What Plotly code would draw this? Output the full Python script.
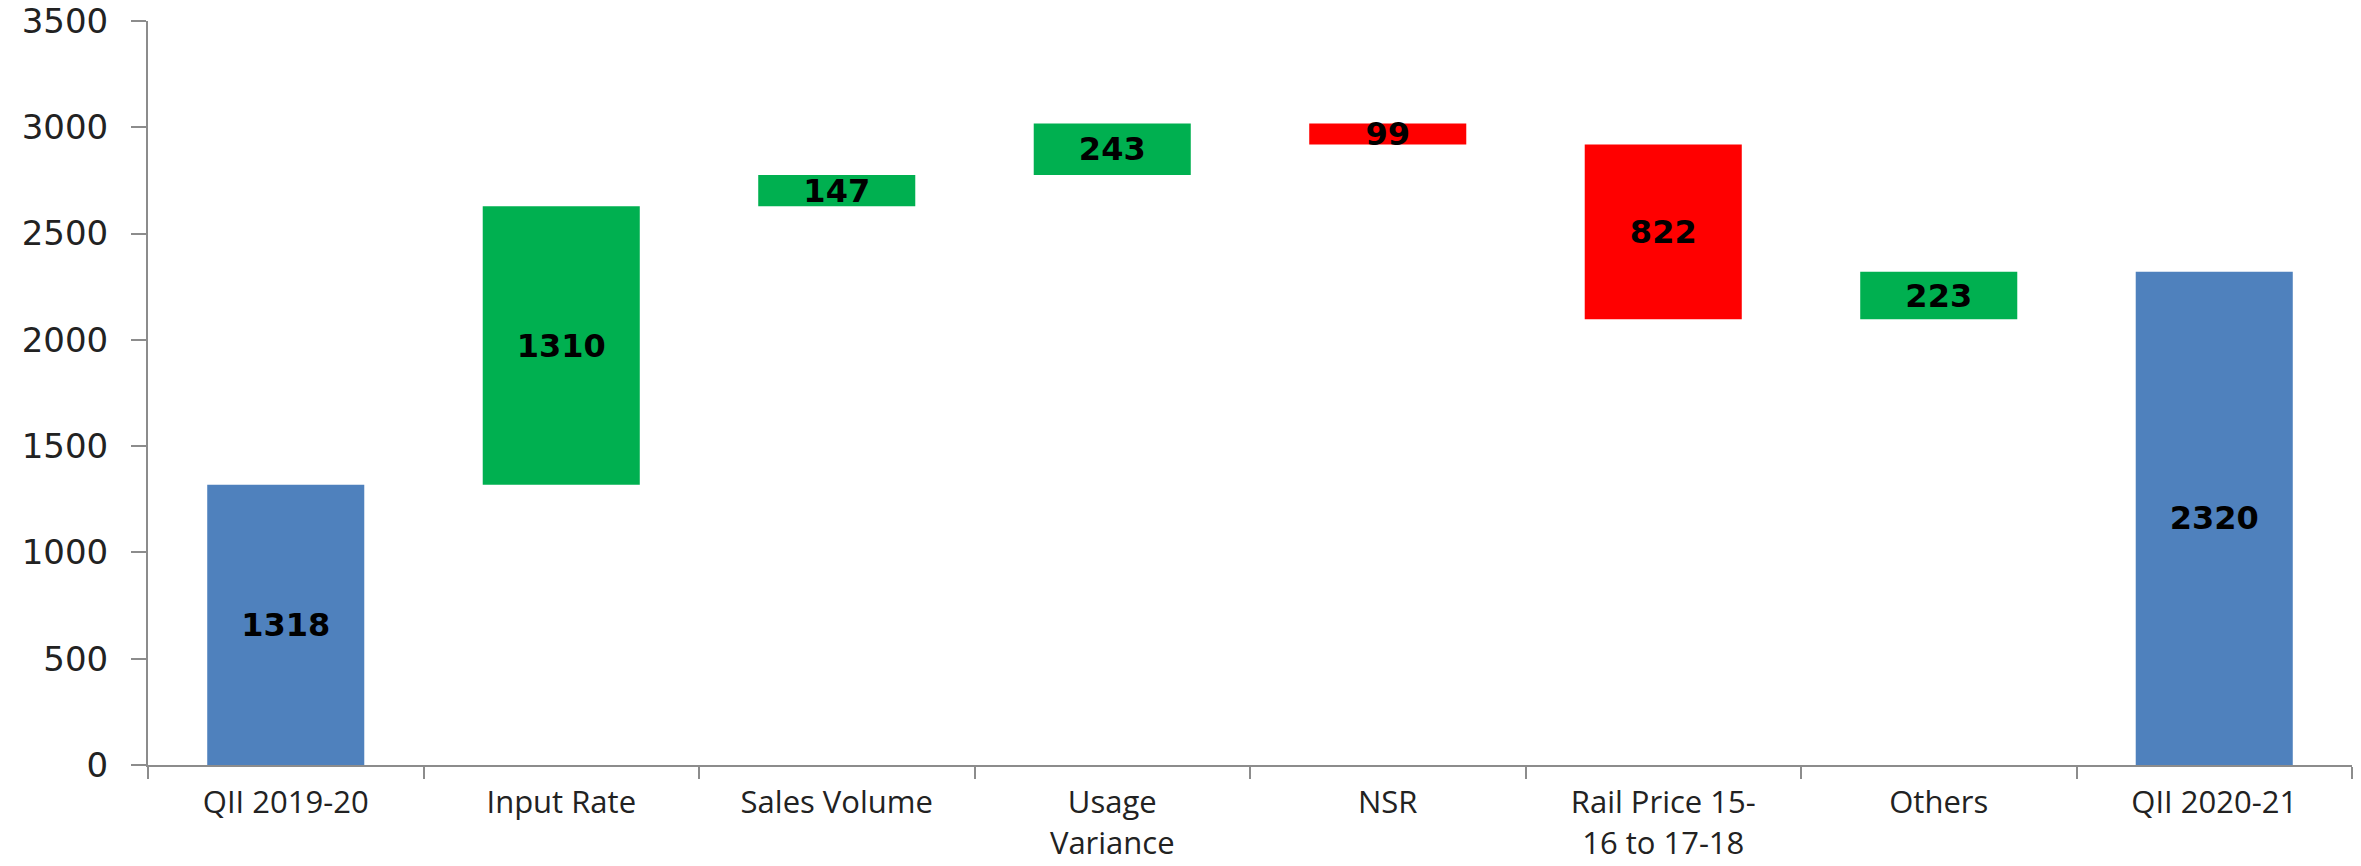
import plotly.graph_objects as go

categories = ["QII 2019-20", "Input Rate", "Sales Volume", "Usage<br>Variance", "NSR",
              "Rail Price 15-<br>16 to 17-18", "Others", "QII 2020-21"]
values = [1318, 1310, 147, 243, -99, -822, 223, 2320]
measures = ["absolute", "relative", "relative", "relative", "relative", "relative", "relative", "total"]
labels = ["1318", "1310", "147", "243", "99", "822", "223", "2320"]
y_ticks = [0, 500, 1000, 1500, 2000, 2500, 3000, 3500]

fig = go.Figure(go.Waterfall(
    x=categories,
    y=values,
    measure=measures,
    text=labels,
    textposition="inside",
    insidetextanchor="middle",
    constraintext="none",
    textangle=0,
    textfont=dict(family="DejaVu Sans", size=32, color="black", weight="bold"),
    increasing=dict(marker=dict(color="#00B050")),
    decreasing=dict(marker=dict(color="#FF0000")),
    totals=dict(marker=dict(color="#4F81BD")),
    connector=dict(visible=False),
    showlegend=False,
))

fig.update_layout(
    width=2353, height=858,
    margin=dict(l=140, r=9, t=13, b=101, autoexpand=False),
    plot_bgcolor="white", paper_bgcolor="white",
    waterfallgap=0.43,
)
fig.update_yaxes(
    range=[0, 3500], tickvals=y_ticks, showgrid=False, zeroline=False,
    showline=True, linecolor="#8c8c8c", linewidth=2,
    ticks="outside", ticklen=15, tickcolor="#8c8c8c", tickwidth=2,
    ticklabelstandoff=16, automargin=False, ticklabeloverflow="allow",
    tickfont=dict(family="DejaVu Sans", size=34, color="#222222"),
)
fig.update_xaxes(
    showgrid=False, showline=True, linecolor="#8c8c8c", linewidth=2,
    ticks="outside", tickson="boundaries", ticklen=12, tickcolor="#8c8c8c", tickwidth=2,
    ticklabelstandoff=9, automargin=False, ticklabeloverflow="allow",
    tickfont=dict(family="Open Sans", size=31, color="#222222"),
)

fig.write_html("out.html")
